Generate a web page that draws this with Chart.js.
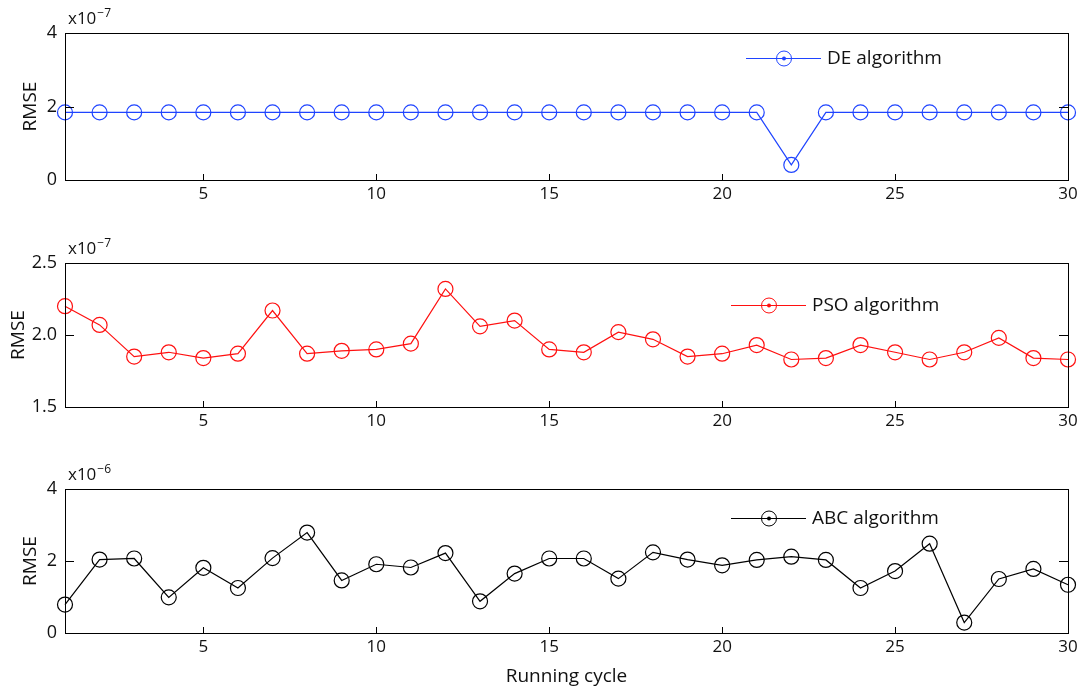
<!DOCTYPE html>
<html>
<head>
<meta charset="utf-8">
<script src="https://cdn.jsdelivr.net/npm/chart.js@4.4.1/dist/chart.umd.min.js"></script>
<style>
  html, body { margin: 0; padding: 0; background: #fff; }
  .panel { position: absolute; left: 0; width: 1084px; }
</style>
</head>
<body>
<div class="panel" style="top:0;height:215px"><canvas id="deChart"></canvas></div>
<div class="panel" style="top:230px;height:212px"><canvas id="psoChart"></canvas></div>
<div class="panel" style="top:456px;height:233px"><canvas id="abcChart"></canvas></div>
<script>
// running cycle (x axis)
const cycles = [1, 2, 3, 4, 5, 6, 7, 8, 9, 10, 11, 12, 13, 14, 15, 16, 17, 18, 19, 20, 21, 22, 23, 24, 25, 26, 27, 28, 29, 30];
const xTicks = [5, 10, 15, 20, 25, 30];

// RMSE, DE in units of 1e-7
const deValues = [1.84, 1.84, 1.84, 1.84, 1.84, 1.84, 1.84, 1.84, 1.84, 1.84, 1.84, 1.84, 1.84, 1.84, 1.84,
  1.84, 1.84, 1.84, 1.84, 1.84, 1.84, 0.41, 1.84, 1.84, 1.84, 1.84, 1.84, 1.84, 1.84, 1.84];
const deTicks = [0, 2, 4];

// RMSE, PSO in units of 1e-7
const psoValues = [2.20, 2.07, 1.85, 1.88, 1.84, 1.87, 2.17, 1.87, 1.89, 1.90, 1.94, 2.32, 2.06, 2.10, 1.90,
  1.88, 2.02, 1.97, 1.85, 1.87, 1.93, 1.83, 1.84, 1.93, 1.88, 1.83, 1.88, 1.98, 1.84, 1.83];
const psoTicks = [1.5, 2.0, 2.5];

// RMSE, ABC in units of 1e-6
const abcValues = [0.79, 2.04, 2.07, 0.99, 1.81, 1.25, 2.08, 2.79, 1.46, 1.91, 1.82, 2.22, 0.88, 1.65, 2.07,
  2.07, 1.51, 2.24, 2.04, 1.88, 2.03, 2.12, 2.03, 1.25, 1.72, 2.48, 0.29, 1.50, 1.78, 1.34];
const abcTicks = [0, 2, 4];

const FONT = '"Open Sans", "DejaVu Sans", sans-serif';
const TEXT = '#111';

// box, inward ticks, exponent label and in-axes legend (MATLAB style)
const matlabAxes = {
  id: 'matlabAxes',
  afterDatasetsDraw(chart, args, opts) {
    const { ctx, chartArea: a, scales } = chart;
    ctx.save();
    ctx.strokeStyle = '#000';
    ctx.lineWidth = 1;
    ctx.strokeRect(Math.round(a.left) + 0.5, Math.round(a.top) + 0.5,
      Math.round(a.right - a.left), Math.round(a.bottom - a.top));

    ctx.beginPath();
    scales.x.ticks.forEach(t => {
      const px = Math.round(scales.x.getPixelForValue(t.value)) + 0.5;
      ctx.moveTo(px, a.bottom);
      ctx.lineTo(px, a.bottom - 6);
    });
    scales.y.ticks.forEach(t => {
      const py = Math.round(scales.y.getPixelForValue(t.value)) + 0.5;
      ctx.moveTo(a.left, py);
      ctx.lineTo(a.left + 9, py);
      ctx.moveTo(a.right, py);
      ctx.lineTo(a.right - 9, py);
    });
    ctx.stroke();

    // exponent
    ctx.fillStyle = TEXT;
    ctx.textBaseline = 'alphabetic';
    ctx.textAlign = 'left';
    ctx.font = '17px ' + FONT;
    const ex = a.left + 3, ey = a.top - 9;
    ctx.fillText('x10', ex, ey);
    const w = ctx.measureText('x10').width;
    ctx.font = '12px ' + FONT;
    ctx.fillText('\u2212' + opts.exponent, ex + w + 1, ey - 7);

    // legend
    const ds = chart.data.datasets[0];
    const lx = a.right - opts.legendRight, ly = Math.round(a.top + opts.legendTop) + 0.5;
    ctx.strokeStyle = ds.borderColor;
    ctx.beginPath();
    ctx.moveTo(lx, ly);
    ctx.lineTo(lx + 75, ly);
    ctx.stroke();
    ctx.beginPath();
    ctx.arc(lx + 38, ly, 7.5, 0, Math.PI * 2);
    ctx.stroke();
    ctx.fillStyle = ds.borderColor;
    ctx.beginPath();
    ctx.arc(lx + 38, ly, 2, 0, Math.PI * 2);
    ctx.fill();
    ctx.fillStyle = TEXT;
    ctx.font = '19px ' + FONT;
    ctx.textBaseline = 'middle';
    ctx.fillText(ds.label, lx + 81, ly);
    ctx.restore();
  }
};

const makePanel = (canvasId, label, values, color, yTicks, yMin, yMax, decimals, extra) => {
  const canvas = document.getElementById(canvasId);
  const points = cycles.map((c, i) => ({ x: c, y: values[i] }));
  return new Chart(canvas.getContext('2d'), {
    type: 'line',
    data: {
      datasets: [{
        label,
        data: points,
        borderColor: color,
        borderWidth: 1.2,
        pointRadius: 7.5,
        pointHoverRadius: 7.5,
        pointBorderWidth: 1.2,
        pointBackgroundColor: 'rgba(0,0,0,0)',
        pointBorderColor: color,
        tension: 0,
        clip: false,
      }],
    },
    options: {
      responsive: true,
      maintainAspectRatio: false,
      animation: false,
      events: [],
      layout: { padding: { top: 33, right: 16, left: 0, bottom: 0 } },
      plugins: {
        legend: { display: false },
        tooltip: { enabled: false },
        matlabAxes: { exponent: extra.exponent, legendRight: extra.legendRight, legendTop: extra.legendTop },
      },
      scales: {
        x: {
          type: 'linear',
          min: 1,
          max: 30,
          afterBuildTicks: s => { s.ticks = xTicks.map(v => ({ value: v })); },
          afterFit: s => { s.height = extra.xHeight; },
          grid: { display: false, drawTicks: false },
          border: { display: false },
          ticks: { color: TEXT, font: { family: FONT, size: 17 }, padding: 4, maxRotation: 0 },
          title: {
            display: !!extra.xTitle,
            text: extra.xTitle || '',
            color: TEXT,
            font: { family: FONT, size: 19 },
            padding: { top: 2, bottom: 1 },
          },
        },
        y: {
          min: yMin,
          max: yMax,
          afterBuildTicks: s => { s.ticks = yTicks.map(v => ({ value: v })); },
          afterFit: s => { s.width = 65; },
          grid: { display: false, drawTicks: false },
          border: { display: false },
          ticks: {
            color: TEXT,
            font: { family: FONT, size: 18 },
            padding: 8,
            callback: v => v.toFixed(decimals),
          },
          title: {
            display: true,
            text: 'RMSE',
            color: TEXT,
            font: { family: FONT, size: 19 },
            padding: { top: extra.titlePad, bottom: 0 },
          },
        },
      },
    },
    plugins: [matlabAxes],
  });
};

makePanel('deChart', 'DE algorithm', deValues, '#1f44ff', deTicks, 0, 4, 0,
  { exponent: '7', legendRight: 322, legendTop: 25, xHeight: 35, titlePad: 19 });
makePanel('psoChart', 'PSO algorithm', psoValues, '#ff1010', psoTicks, 1.5, 2.5, 1,
  { exponent: '7', legendRight: 337, legendTop: 42, xHeight: 35, titlePad: 7 });
makePanel('abcChart', 'ABC algorithm', abcValues, '#000000', abcTicks, 0, 4, 0,
  { exponent: '6', legendRight: 337, legendTop: 29, xHeight: 56, xTitle: 'Running cycle', titlePad: 19 });
</script>
</body>
</html>
